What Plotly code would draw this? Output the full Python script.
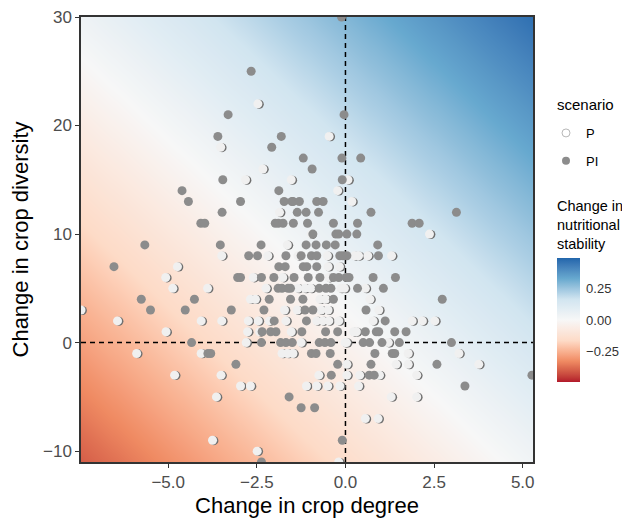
import plotly.graph_objects as go
import numpy as np

# ---------------- data ----------------
# scenario PI (grey points): x = change in crop degree, y = change in crop diversity
pi_rows = {
    30: [-0.11],
    25: [-2.66],
    21: [-3.31, -0.04],
    19: [-3.60, -1.81],
    18: [-2.08],
    17: [-1.19, -0.10, 0.43],
    16: [-0.94],
    15: [-3.46, -0.09],
    14: [-4.61, -1.88],
    13: [-4.43, -2.96, -1.73, -1.51, -1.48, -1.30, -0.81, -0.63],
    12: [-3.48, -1.36, -1.11, -0.76, 0.72, 3.13],
    11: [-4.08, -3.97, -1.98, -1.89, -1.76, -1.47, -1.07, -0.34, 0.34, 1.88, 2.08],
    10: [-0.92, -0.27, -0.19, 0.04, 0.32],
    9: [-5.66, -3.53, -2.38, -1.11, -0.83, -0.54, -0.29, 0.91],
    8: [-2.73, -2.48, -1.68, -1.25, -0.96, -0.81, -0.16, -0.07, 0.04, 0.93],
    7: [-6.53, -1.88, -1.70, -1.19, -1.09, -0.81],
    6: [-3.04, -2.96, -2.37, -2.02, -1.45, -1.05, -0.72, -0.34, -0.19, 0.02, 0.10, 0.78, 1.41],
    5: [-1.90, -1.79, -1.62, -1.55, -0.74, -0.55, -0.41, 0.34, 1.07],
    4: [-5.76, -4.26, -2.15, -1.55, -1.20, -0.34, 2.73],
    3: [-5.50, -4.52, -3.22, -2.30, -1.14, -0.92, 0.58],
    2: [-2.01, -1.10, 1.12],
    1: [-2.35, -2.11, -1.96, -1.23, -0.56, -0.22, 0.56, 0.87, 0.94, 1.39, 1.71],
    0: [-4.34, -2.37, -1.83, -1.68, -1.50, -0.74, -0.58, -0.41, 0.50, 0.68, 1.03, 1.52, 2.99],
    -1: [-3.88, -3.80, -0.96, -0.83, -0.43, 0.83, 1.32, 1.39],
    -2: [-3.09, -0.22, 0.72, 2.58],
    -3: [-0.40, 0.67, 0.81, 5.26],
    -4: [3.37],
    -5: [-1.59],
    -6: [-1.25, -0.87],
    -9: [-0.09],
    -11: [-2.37],
}

# scenario P (white points)
p_rows = {
    22: [-2.47],
    19: [-0.46],
    18: [-3.52],
    16: [-2.33],
    15: [-2.82, -1.53, 0.07],
    14: [-0.22],
    13: [0.18],
    12: [-1.86],
    10: [-0.97, 2.37],
    9: [-1.64],
    8: [-3.49, -2.19, -1.34, -0.51, 0.26, 0.37, 0.63, 1.30],
    7: [-4.74, -0.49, -0.17],
    6: [-5.07, -2.60, -1.77, -0.47],
    5: [-4.87, -3.89, -2.24, -1.34, -1.14, -0.98, -0.13, -0.03, 0.56],
    4: [-2.68, -2.54, -0.72, -0.56, 0.69],
    3: [-7.46, -1.72, -1.36, -0.69, -0.49, 0.94],
    2: [-6.43, -4.07, -3.49, -2.74, -2.46, -2.15, -1.68, -0.81, -0.64, -0.47, -0.19, 0.78, 1.88, 2.17, 2.52],
    1: [-5.06, -2.76, -2.42, -1.53, 0.23, 0.31],
    0: [-2.80, -1.25, -0.01, 0.03, 1.21],
    -1: [-5.89, -4.07, -1.79, -1.63, -1.48, 1.77, 3.20],
    -2: [0.04, 1.43, 1.77, 3.76],
    -3: [-4.82, -3.51, -0.75, 0.04, 0.40, 0.96, 2.01],
    -4: [-2.96, -2.68, -1.10, -0.81, -0.50, -0.16, 0.37],
    -5: [-3.64, 1.29, 2.01],
    -7: [0.56, 0.92],
    -9: [-3.75],
    -10: [-2.49],
    -11: [-0.19],
}

pi_x = [x for y, xs in pi_rows.items() for x in xs]
pi_y = [y for y, xs in pi_rows.items() for x in xs]
p_x = [x for y, xs in p_rows.items() for x in xs]
p_y = [y for y, xs in p_rows.items() for x in xs]

# background surface: change in nutritional stability at the panel corners
x_limits = [-7.46, 5.29]
y_limits = [-11.0, 30.0]
stab_bottom_left = -0.40
stab_bottom_right = 0.03
stab_top_left = 0.04
stab_top_right = 0.465
fill_limits = [-0.49, 0.49]

x_ticks = [-5.0, -2.5, 0.0, 2.5, 5.0]
y_ticks = [-10, 0, 10, 20, 30]
cbar_ticks = [-0.25, 0.0, 0.25]
cbar_ticktext = ["\u22120.25", "0.00", "0.25"]

# ---------------- colour scale (RdBu, interpolated in CIELAB like ggplot) ----------------
rdbu7 = ["#B2182B", "#EF8A62", "#FDDBC7", "#F7F7F7", "#D1E5F0", "#67A9CF", "#2166AC"]


def hex_to_rgb(h):
    h = h.lstrip("#")
    return [int(h[i:i + 2], 16) / 255 for i in (0, 2, 4)]


def srgb_to_lin(c):
    return c / 12.92 if c <= 0.04045 else ((c + 0.055) / 1.055) ** 2.4


def lin_to_srgb(c):
    c = min(max(c, 0.0), 1.0)
    return 12.92 * c if c <= 0.0031308 else 1.055 * c ** (1 / 2.4) - 0.055


M = np.array([[0.4124, 0.3576, 0.1805], [0.2126, 0.7152, 0.0722], [0.0193, 0.1192, 0.9505]])
Minv = np.linalg.inv(M)
WHITE = M @ np.array([1.0, 1.0, 1.0])


def f_lab(t):
    return t ** (1 / 3) if t > 0.008856 else 7.787 * t + 16 / 116


def finv_lab(t):
    return t ** 3 if t > 0.206893 else (t - 16 / 116) / 7.787


def rgb_to_lab(rgb):
    xyz = M @ np.array([srgb_to_lin(c) for c in rgb]) / WHITE
    fx, fy, fz = (f_lab(v) for v in xyz)
    return np.array([116 * fy - 16, 500 * (fx - fy), 200 * (fy - fz)])


def lab_to_rgb(lab):
    L, a, b = lab
    fy = (L + 16) / 116
    fx = fy + a / 500
    fz = fy - b / 200
    xyz = np.array([finv_lab(fx), finv_lab(fy), finv_lab(fz)]) * WHITE
    rgb = Minv @ xyz
    return [lin_to_srgb(c) for c in rgb]


labs = [rgb_to_lab(hex_to_rgb(c)) for c in rdbu7]
colorscale = []
n_stops = 49
for i in range(n_stops):
    t = i / (n_stops - 1)
    pos = t * (len(labs) - 1)
    k = min(int(pos), len(labs) - 2)
    f = pos - k
    lab = labs[k] * (1 - f) + labs[k + 1] * f
    r, g, b = lab_to_rgb(lab)
    colorscale.append([t, f"rgb({round(r*255)},{round(g*255)},{round(b*255)})"])

# ---------------- background grid (bilinear between the corner values) ----------------
gx = np.linspace(x_limits[0], x_limits[1], 90)
gy = np.linspace(y_limits[0], y_limits[1], 90)
tx = (gx - x_limits[0]) / (x_limits[1] - x_limits[0])
ty = (gy - y_limits[0]) / (y_limits[1] - y_limits[0])
TX, TY = np.meshgrid(tx, ty)
gz = (stab_bottom_left * (1 - TX) * (1 - TY) + stab_bottom_right * TX * (1 - TY)
      + stab_top_left * (1 - TX) * TY + stab_top_right * TX * TY)

# ---------------- layout geometry ----------------
W, H = 622, 518
ML, MR, MT, MB = 81, 89, 17, 56
plot_w = W - ML - MR
plot_h = H - MT - MB
FONT = "Liberation Sans, Arial, sans-serif"

# small shadow offset for the P points (a couple of pixels, converted to data units)
dx_shadow = 1.4 * (x_limits[1] - x_limits[0]) / plot_w
dy_shadow = -0.4 * (y_limits[1] - y_limits[0]) / plot_h

fig = go.Figure()

fig.add_trace(go.Heatmap(
    x=gx, y=gy, z=gz, zsmooth="best",
    colorscale=colorscale, zmin=fill_limits[0], zmax=fill_limits[1],
    hoverinfo="skip",
    colorbar=dict(
        thickness=23, thicknessmode="pixels",
        len=124, lenmode="pixels",
        x=(557 - ML) / plot_w, xanchor="left", xpad=0,
        y=(H - MB - 320) / plot_h, yanchor="middle", ypad=0,
        outlinewidth=0,
        tickvals=cbar_ticks, ticktext=cbar_ticktext,
        ticks="outside", ticklen=4, tickcolor="rgba(0,0,0,0)", tickwidth=1,
        tickfont=dict(size=13, color="#333333", family=FONT),
    ),
))

# reference lines at zero
fig.add_trace(go.Scatter(x=[0, 0], y=y_limits, mode="lines",
                         line=dict(color="black", width=1.5, dash="5px,4px"),
                         showlegend=False, hoverinfo="skip"))
fig.add_trace(go.Scatter(x=x_limits, y=[0, 0], mode="lines",
                         line=dict(color="black", width=1.5, dash="5px,4px"),
                         showlegend=False, hoverinfo="skip"))

# P points (with a thin grey shadow)
fig.add_trace(go.Scatter(x=[v + dx_shadow for v in p_x], y=[v + dy_shadow for v in p_y],
                         mode="markers", marker=dict(size=9, color="#6f6f6f"),
                         showlegend=False, hoverinfo="skip"))
fig.add_trace(go.Scatter(x=p_x, y=p_y, mode="markers", name="P",
                         marker=dict(size=9, color="#F0F0F0"),
                         showlegend=False))
# PI points
fig.add_trace(go.Scatter(x=pi_x, y=pi_y, mode="markers", name="PI",
                         marker=dict(size=9, color="#8C8C8C"),
                         showlegend=False))

# legend entries
fig.add_trace(go.Scatter(x=[None], y=[None], mode="markers", name="P", legendgroup="P",
                         marker=dict(size=8, color="white", line=dict(color="#999999", width=0.7))))
fig.add_trace(go.Scatter(x=[None], y=[None], mode="markers", name="PI", legendgroup="PI",
                         marker=dict(size=8, color="#8C8C8C")))

axis_common = dict(
    showgrid=False, zeroline=False,
    showline=True, mirror=True, linecolor="#333333", linewidth=1.5,
    ticks="outside", ticklen=4, tickwidth=1, tickcolor="#333333",
    tickfont=dict(size=17, color="#4D4D4D", family=FONT),
)

fig.update_layout(
    width=W, height=H,
    margin=dict(l=ML, r=MR, t=MT, b=MB, autoexpand=False),
    paper_bgcolor="white", plot_bgcolor="white",
    font=dict(family=FONT, color="black"),
    xaxis=dict(range=x_limits, tickvals=x_ticks, tickformat=".1f",
               title=dict(text="Change in crop degree", font=dict(size=22, color="black"), standoff=6),
               **axis_common),
    yaxis=dict(range=y_limits, tickvals=y_ticks,
               title=dict(text="Change in crop diversity", font=dict(size=22, color="black"), standoff=8),
               **axis_common),
    showlegend=True,
    legend=dict(x=(546 - ML) / plot_w, xanchor="left", y=(H - MB - 118) / plot_h, yanchor="top",
                font=dict(size=13, color="black", family=FONT),
                bgcolor="rgba(0,0,0,0)", traceorder="grouped", tracegroupgap=8,
                itemsizing="trace"),
    annotations=[
        dict(text="scenario", xref="paper", yref="paper",
             x=(555 - ML) / plot_w, y=(H - MB - 104) / plot_h, xanchor="left", yanchor="middle",
             showarrow=False, font=dict(size=15, color="black", family=FONT), align="left"),
        dict(text="Change in<br>nutritional<br>stability", xref="paper", yref="paper",
             x=(555 - ML) / plot_w, y=(H - MB - 225) / plot_h, xanchor="left", yanchor="middle",
             showarrow=False, font=dict(size=14.5, color="black", family=FONT), align="left"),
    ],
)

fig.write_html("out.html")
